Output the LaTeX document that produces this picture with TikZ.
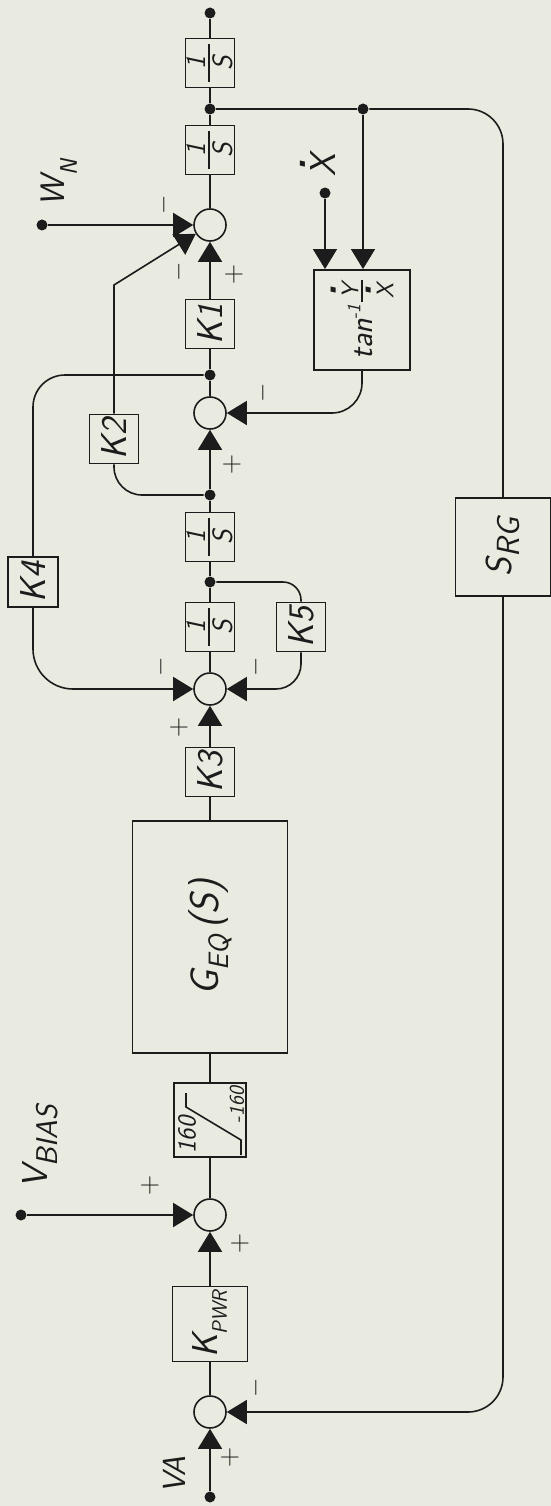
\documentclass[tikz,border=0pt]{standalone}
\usepackage{fontspec}
\usetikzlibrary{arrows.meta}
\definecolor{Paper}{RGB}{234,235,224}
\definecolor{Ink}{RGB}{28,28,28}
\newcommand{\vtxt}[1]{\rotatebox{90}{#1}}
\newcommand{\tsize}[1]{\fontsize{#1}{#1}\selectfont}
\newcommand{\lowtxt}[3]{\raisebox{-#1}{\tsize{#2}#3}}
\newcommand{\topdot}[1]{\shortstack{{\tsize{20}\textbullet}\\#1}}
\newcommand{\oneovers}{\tsize{28}\shortstack{1\\\rule{38pt}{1.5pt}\\S}}

\begin{document}
\begin{tikzpicture}[
x=1pt,y=-1pt,
color=Ink,line width=1.6pt,
font=\sffamily\itshape\tsize{36},
box/.style={
rectangle,draw,line width=1.9pt,inner sep=0pt,
minimum width=49pt,minimum height=49pt
},
sumpt/.style={circle,draw,line width=1.6pt,minimum size=32pt,inner sep=0pt},
jdot/.style={circle,fill,inner sep=0pt,minimum size=11pt},
signlbl/.style={inner sep=0pt,font=\tsize{28}},
arrow/.style={-{Triangle[length=20pt,width=24pt]}}
]

\useasboundingbox (0,0) rectangle (551,1506);
\fill[Paper] (0,0) rectangle (551,1506);

% forward path
\node[jdot] (va) at (210,1497) {};
\node (valbl) at (174,1475) {\vtxt{\tsize{32}VA}};
\node[sumpt] (s1) at (210,1412) {};
\node[box,minimum width=75pt,minimum height=75pt] (kpwr) at (210,1324) {\vtxt{K\lowtxt{9pt}{21}{PWR}}};
\node[sumpt] (s2) at (210,1215) {};
\node[jdot] (vb) at (21,1215) {};
\node (vblbl) at (40,1147) {\vtxt{V\lowtxt{10pt}{30}{BIAS}}};
\node[box,minimum width=72pt,minimum height=74pt] (sat) at (210,1120) {};
\node[box,minimum width=155pt,minimum height=232pt] (geq) at (210,937) {\vtxt{\tsize{40}G\lowtxt{10pt}{28}{EQ}\hspace{6pt}(S)}};
\node[box] (k3) at (210,772) {\vtxt{K3}};
\node[sumpt] (s3) at (210,689) {};
\node[box] (ia) at (210,627) {\vtxt{\oneovers}};
\node[jdot] (da) at (210,582) {};
\node[box] (k5) at (301,627) {\vtxt{K5}};
\node[box,minimum width=50pt,minimum height=50pt] (k4) at (33,582) {\vtxt{K4}};
\node[box] (ib) at (210,537) {\vtxt{\oneovers}};
\node[jdot] (db) at (210,495) {};
\node[box] (k2) at (114,439) {\vtxt{K2}};
\node[sumpt] (s4) at (210,413) {};
\node[jdot] (dc) at (210,375) {};
\node[box] (k1) at (210,324) {\vtxt{K1}};
\node[box,minimum width=96pt,minimum height=100pt] (atan) at (362,320) {\vtxt{\tsize{32}tan\raisebox{12pt}{\tsize{19}-1}\hspace{2pt}\raisebox{-21pt}{\tsize{24}\shortstack{\topdot{Y}\\\rule{22pt}{1.5pt}\\\topdot{X}}}}};
\node[sumpt] (s5) at (210,225) {};
\node[jdot] (wn) at (42,225) {};
\node (wnlbl) at (59,183) {\vtxt{\tsize{34}W\lowtxt{12pt}{24}{N}}};
\node[jdot] (xd) at (325,193) {};
\node (xdlbl) at (318,165) {\vtxt{\topdot{X}}};
\node[box] (ic) at (210,150) {\vtxt{\oneovers}};
\node[jdot] (dd) at (210,109) {};
\node[jdot] (de) at (363,109) {};
\node[box] (id) at (210,63) {\vtxt{\oneovers}};
\node[jdot] (out) at (210,13) {};
\node[box,minimum width=95pt,minimum height=98pt] (srg) at (503,547) {\vtxt{S\lowtxt{8pt}{32}{RG}}};

% limiter
\draw ([shift={(31,35)}]sat.center) -- ++(0,-15) -- ++(-55,-33) -- ++(0,-14);
\node (lim1) at ([shift={(-23,15)}]sat.center) {\vtxt{\tsize{26}160}};
\node (lim2) at ([shift={(27,-15)}]sat.center) {\vtxt{\tsize{21}-160}};

% signs
\node[signlbl] (p1) at (230,1457) {+};
\node[signlbl] (m1) at (256,1388) {\vtxt{$-$}};
\node[signlbl] (p2a) at (240,1243) {+};
\node[signlbl] (p2b) at (150,1185) {+};
\node[signlbl] (p3) at (179,728) {+};
\node[signlbl] (m3a) at (161,667) {\vtxt{$-$}};
\node[signlbl] (m3b) at (256,667) {\vtxt{$-$}};
\node[signlbl] (p4) at (232,465) {+};
\node[signlbl] (m4) at (263,393) {\vtxt{$-$}};
\node[signlbl] (m5a) at (164,205) {\vtxt{$-$}};
\node[signlbl] (m5b) at (179,272) {\vtxt{$-$}};
\node[signlbl] (p5) at (234,275) {+};

% main chain
\draw[arrow] (va) -- (s1);
\draw (s1) -- (kpwr);
\draw[arrow] (kpwr) -- (s2);
\draw[arrow] (vb) -- (s2);
\draw (s2) -- (sat);
\draw (sat) -- (geq);
\draw (geq) -- (k3);
\draw[arrow] (k3) -- (s3);
\draw (s3) -- (ia);
\draw (ia) -- (da);
\draw (da) -- (ib);
\draw (ib) -- (db);
\draw[arrow] (db) -- (s4);
\draw (s4) -- (dc);
\draw (dc) -- (k1);
\draw[arrow] (k1) -- (s5);
\draw[arrow] (wn) -- (s5);
\draw (s5) -- (ic);
\draw (ic) -- (dd);
\draw (dd) -- (id);
\draw (id) -- (out);

% inner loops
\draw[rounded corners=18pt] (da) -| (k5.north);
\draw[arrow,rounded corners=25pt] (k5.south) |- (s3.east);
\draw[rounded corners=32pt] (dc) -| (k4.north);
\draw[arrow,rounded corners=40pt] (k4.south) |- (s3.west);
\draw[rounded corners=28pt] (db) -| (k2.south);
\draw[arrow] (k2.north) -- (k2.north |- 0,285) -- (s5);
\draw[arrow,rounded corners=30pt] (atan.south) |- (s4.east);
\draw[arrow] (xd) -- (xd |- atan.north);

% outer loop
\draw (dd) -- (de);
\draw[arrow] (de) -- (de |- atan.north);
\draw[rounded corners=35pt] (de) -| (srg.north);
\draw[arrow,rounded corners=35pt] (srg.south) |- (s1.east);

\end{tikzpicture}
\end{document}
